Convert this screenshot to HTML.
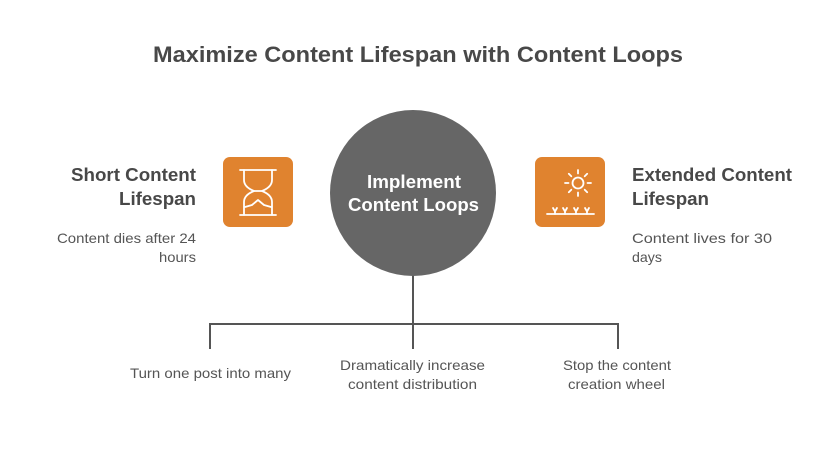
<!DOCTYPE html>
<html>
<head>
<meta charset="utf-8">
<style>
  html,body{margin:0;padding:0;background:#fff;}
  svg{display:block;}
  text{font-family:"Liberation Sans",Arial,sans-serif;}
</style>
</head>
<body>
<svg width="834" height="470" viewBox="0 0 834 470" xmlns="http://www.w3.org/2000/svg">
  <rect width="834" height="470" fill="#ffffff"/>

  <!-- Title -->
  <text x="153" y="62" font-size="22" font-weight="bold" fill="#484848" textLength="530" lengthAdjust="spacingAndGlyphs">Maximize Content Lifespan with Content Loops</text>

  <!-- Left text -->
  <text x="71" y="181" font-size="18" font-weight="bold" fill="#484848" textLength="125" lengthAdjust="spacingAndGlyphs">Short Content</text>
  <text x="119" y="205" font-size="18" font-weight="bold" fill="#484848" textLength="77" lengthAdjust="spacingAndGlyphs">Lifespan</text>
  <text x="57" y="243" font-size="14" fill="#555555" textLength="139" lengthAdjust="spacingAndGlyphs">Content dies after 24</text>
  <text x="159" y="262" font-size="14" fill="#555555" textLength="37" lengthAdjust="spacingAndGlyphs">hours</text>

  <!-- Right text -->
  <text x="632" y="181" font-size="18" font-weight="bold" fill="#484848" textLength="160" lengthAdjust="spacingAndGlyphs">Extended Content</text>
  <text x="632" y="205" font-size="18" font-weight="bold" fill="#484848" textLength="77" lengthAdjust="spacingAndGlyphs">Lifespan</text>
  <text x="632" y="243" font-size="14" fill="#555555" textLength="140" lengthAdjust="spacingAndGlyphs">Content lives for 30</text>
  <text x="632" y="262" font-size="14" fill="#555555" textLength="30" lengthAdjust="spacingAndGlyphs">days</text>

  <!-- Left icon box: hourglass -->
  <rect x="223" y="157" width="70" height="70" rx="7" fill="#E0832F"/>
  <g transform="translate(223,157)" fill="none" stroke="#ffffff" stroke-width="1.8" stroke-linecap="round" stroke-linejoin="round">
    <line x1="17" y1="13" x2="53" y2="13"/>
    <line x1="17" y1="58" x2="53" y2="58"/>
    <path d="M21 13 L21 23 Q21 30 31 34 Q21 38 21 45 L21 58"/>
    <path d="M49 13 L49 23 Q49 30 39 34 Q49 38 49 45 L49 58"/>
    <line x1="31" y1="34" x2="39" y2="34"/>
    <path d="M22 50 L29 48 L35 43 L41 48 L48 50"/>
  </g>

  <!-- Right icon box: sun & grass -->
  <rect x="535" y="157" width="70" height="70" rx="7" fill="#E0832F"/>
  <g transform="translate(535,157)" fill="none" stroke="#ffffff" stroke-width="1.8" stroke-linecap="round">
    <circle cx="43" cy="26" r="5.5"/>
    <line x1="43" y1="13" x2="43" y2="16.5"/>
    <line x1="43" y1="35.5" x2="43" y2="39"/>
    <line x1="30" y1="26" x2="33.5" y2="26"/>
    <line x1="52.5" y1="26" x2="56" y2="26"/>
    <line x1="33.8" y1="16.8" x2="36.3" y2="19.3"/>
    <line x1="49.7" y1="32.7" x2="52.2" y2="35.2"/>
    <line x1="52.2" y1="16.8" x2="49.7" y2="19.3"/>
    <line x1="36.3" y1="32.7" x2="33.8" y2="35.2"/>
    <line x1="12" y1="57" x2="59" y2="57"/>
    <path d="M18 51 L20 54.5 L22 51 M20 54.5 L20 57"/>
    <path d="M28 51 L30 54.5 L32 51 M30 54.5 L30 57"/>
    <path d="M39 51 L41 54.5 L43 51 M41 54.5 L41 57"/>
    <path d="M50 51 L52 54.5 L54 51 M52 54.5 L52 57"/>
  </g>

  <!-- Connectors -->
  <g stroke="#555555" stroke-width="2" fill="none">
    <line x1="413" y1="275" x2="413" y2="349"/>
    <line x1="210" y1="324" x2="618" y2="324"/>
    <line x1="210" y1="323" x2="210" y2="349"/>
    <line x1="618" y1="323" x2="618" y2="349"/>
  </g>

  <!-- Center circle -->
  <circle cx="413" cy="193" r="83" fill="#666666"/>
  <text x="367" y="188" font-size="18" font-weight="bold" fill="#ffffff" textLength="94" lengthAdjust="spacingAndGlyphs">Implement</text>
  <text x="348" y="211" font-size="18" font-weight="bold" fill="#ffffff" textLength="131" lengthAdjust="spacingAndGlyphs">Content Loops</text>

  <!-- Bottom labels -->
  <text x="130" y="378" font-size="14" fill="#555555" textLength="161" lengthAdjust="spacingAndGlyphs">Turn one post into many</text>
  <text x="340" y="370" font-size="14" fill="#555555" textLength="145" lengthAdjust="spacingAndGlyphs">Dramatically increase</text>
  <text x="348" y="389" font-size="14" fill="#555555" textLength="129" lengthAdjust="spacingAndGlyphs">content distribution</text>
  <text x="563" y="370" font-size="14" fill="#555555" textLength="108" lengthAdjust="spacingAndGlyphs">Stop the content</text>
  <text x="568" y="389" font-size="14" fill="#555555" textLength="97" lengthAdjust="spacingAndGlyphs">creation wheel</text>
</svg>
</body>
</html>
